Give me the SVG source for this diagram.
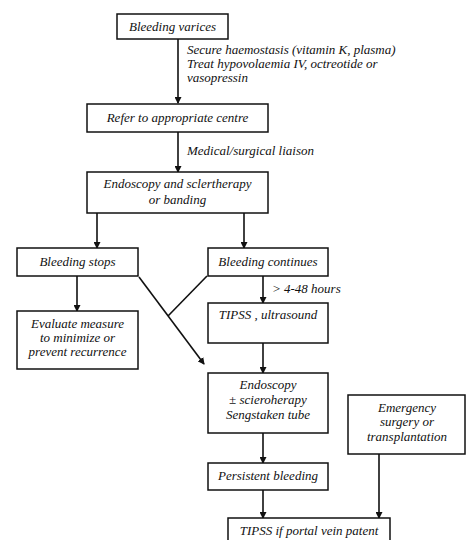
<svg xmlns="http://www.w3.org/2000/svg" width="466" height="540" viewBox="0 0 466 540">
<style>
.b{fill:#fff;stroke:#111;stroke-width:1.5}
.t{font-family:"Liberation Serif","Times New Roman",serif;font-style:italic;font-size:13px;fill:#111;text-anchor:middle}
.l{font-family:"Liberation Serif","Times New Roman",serif;font-style:italic;font-size:13px;fill:#111}
.c{stroke:#111;stroke-width:1.6;fill:none}
</style>
<defs>
<marker id="ah" markerWidth="7" markerHeight="7" refX="6" refY="3.5" orient="auto" markerUnits="userSpaceOnUse">
<path d="M0,0 L7,3.5 L0,7 Z" fill="#111"/>
</marker>
</defs>
<rect width="466" height="540" fill="#fff"/>
<g id="connectors">
<line class="c" x1="178" y1="39" x2="178" y2="103" marker-end="url(#ah)"/>
<line class="c" x1="178" y1="132" x2="178" y2="172" marker-end="url(#ah)"/>
<line class="c" x1="97" y1="213" x2="97" y2="248" marker-end="url(#ah)"/>
<line class="c" x1="244" y1="213" x2="244" y2="248" marker-end="url(#ah)"/>
<line class="c" x1="77" y1="276" x2="77" y2="311" marker-end="url(#ah)"/>
<line class="c" x1="263" y1="276" x2="263" y2="303" marker-end="url(#ah)"/>
<line class="c" x1="139" y1="277" x2="204" y2="364" marker-end="url(#ah)"/>
<line class="c" x1="207" y1="276" x2="168" y2="316"/>
<line class="c" x1="263" y1="343" x2="263" y2="373" marker-end="url(#ah)"/>
<line class="c" x1="263" y1="433" x2="263" y2="463" marker-end="url(#ah)"/>
<line class="c" x1="263" y1="490" x2="263" y2="518" marker-end="url(#ah)"/>
<line class="c" x1="379" y1="454" x2="379" y2="518" marker-end="url(#ah)"/>
<text class="l" x="187" y="54">Secure haemostasis (vitamin K, plasma)</text>
<text class="l" x="187" y="68">Treat hypovolaemia IV, octreotide or</text>
<text class="l" x="187" y="82">vasopressin</text>
<text class="l" x="187" y="155">Medical/surgical liaison</text>
<text class="l" x="272" y="293">&gt; 4-48 hours</text>
</g>
<g id="n1"><rect class="b" x="117" y="14" width="111" height="25"/><text class="t" x="172.5" y="31">Bleeding varices</text></g>
<g id="n2"><rect class="b" x="87" y="104" width="181" height="28"/><text class="t" x="177.5" y="122">Refer to appropriate centre</text></g>
<g id="n3"><rect class="b" x="87" y="172" width="181" height="41"/><text class="t" x="177.5" y="188">Endoscopy and sclertherapy</text><text class="t" x="177.5" y="204">or banding</text></g>
<g id="n4"><rect class="b" x="17" y="248" width="121" height="28"/><text class="t" x="77.5" y="266">Bleeding stops</text></g>
<g id="n5"><rect class="b" x="208" y="248" width="120" height="28"/><text class="t" x="268" y="266">Bleeding continues</text></g>
<g id="n6"><rect class="b" x="17" y="311" width="121" height="58"/><text class="t" x="77.5" y="328">Evaluate measure</text><text class="t" x="77.5" y="342">to minimize or</text><text class="t" x="77.5" y="356">prevent recurrence</text></g>
<g id="n7"><rect class="b" x="208" y="303" width="120" height="40"/><text class="t" x="268" y="319">TIPSS , ultrasound</text></g>
<g id="n8"><rect class="b" x="208" y="373" width="120" height="60"/><text class="t" x="268" y="389">Endoscopy</text><text class="t" x="268" y="404">± scieroherapy</text><text class="t" x="268" y="419">Sengstaken tube</text></g>
<g id="n9"><rect class="b" x="348" y="395" width="117" height="59"/><text class="t" x="407" y="412">Emergency</text><text class="t" x="407" y="426">surgery or</text><text class="t" x="407" y="441">transplantation</text></g>
<g id="n10"><rect class="b" x="208" y="463" width="120" height="27"/><text class="t" x="268" y="480">Persistent bleeding</text></g>
<g id="n11"><rect class="b" x="228" y="518" width="162" height="30"/><text class="t" x="309" y="535">TIPSS if portal vein patent</text></g>
</svg>
